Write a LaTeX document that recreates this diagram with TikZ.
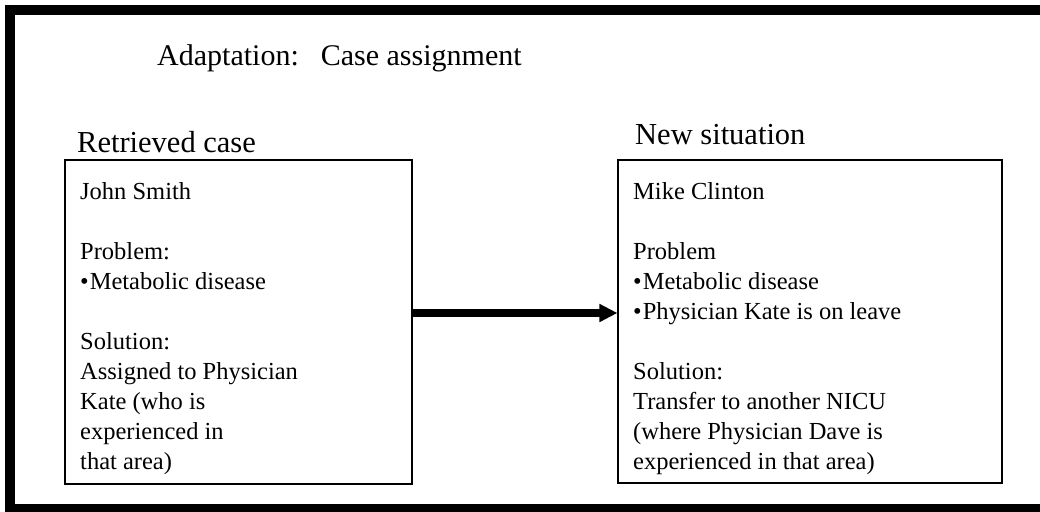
\documentclass[tikz,border=0pt]{standalone}
\usepackage{fontspec}
\setmainfont{Liberation Serif}
\usetikzlibrary{arrows.meta}
\begin{document}
\begin{tikzpicture}[x=1pt,y=-1pt,
  frame/.style={line width=10pt},
  casebox/.style={draw, line width=1.1pt, inner sep=0pt},
  titletext/.style={anchor=base west, inner sep=0pt, font=\fontsize{30}{36}\selectfont},
  heading/.style={anchor=base west, inner sep=0pt, font=\fontsize{30.5}{36}\selectfont},
  body/.style={anchor=base west, inner sep=0pt, font=\fontsize{24.5}{30}\selectfont},
  bigarrow/.style={line width=8pt, -{Triangle[length=18pt,width=17pt]}}]
\useasboundingbox (0,0) rectangle (1040,511);
\begin{scope}
\clip (0,0) rectangle (1040,511);
\draw[frame] (10,10) rectangle (1060,509);
\end{scope}
% title
\node[titletext] (title) at (157,65) {Adaptation:\hspace{22pt}Case assignment};
% headings
\node[heading] (hL) at (77,152) {Retrieved case};
\node[heading] (hR) at (635,144) {New situation};
% boxes
\node[casebox, minimum width=347pt, minimum height=324pt] (L) at (238.5,322) {};
\node[casebox, minimum width=384pt, minimum height=323pt] (R) at (810,321.5) {};
% left box text
\node[body] (l1) at (80,199) {John Smith};
\node[body] (l2) at (80,259) {Problem:};
\node[body] (l3) at (80,289) {•\kern1pt Metabolic disease};
\node[body] (l4) at (80,349) {Solution:};
\node[body] (l5) at (80,379) {Assigned to Physician};
\node[body] (l6) at (80,409) {Kate (who is};
\node[body] (l7) at (80,439) {experienced in};
\node[body] (l8) at (80,469) {that area)};
% right box text
\node[body] (r1) at (633,199) {Mike Clinton};
\node[body] (r2) at (633,259) {Problem};
\node[body] (r3) at (633,289) {•\kern1pt Metabolic disease};
\node[body] (r4) at (633,319) {•\kern1pt Physician Kate is on leave};
\node[body] (r5) at (633,379) {Solution:};
\node[body] (r6) at (633,409) {Transfer to another NICU};
\node[body] (r7) at (633,439) {(where Physician Dave is};
\node[body] (r8) at (633,469) {experienced in that area)};
% arrow
\draw[bigarrow] ([yshift=9pt]L.east) -- ([yshift=9pt]L.east -| R.west);
\end{tikzpicture}
\end{document}
